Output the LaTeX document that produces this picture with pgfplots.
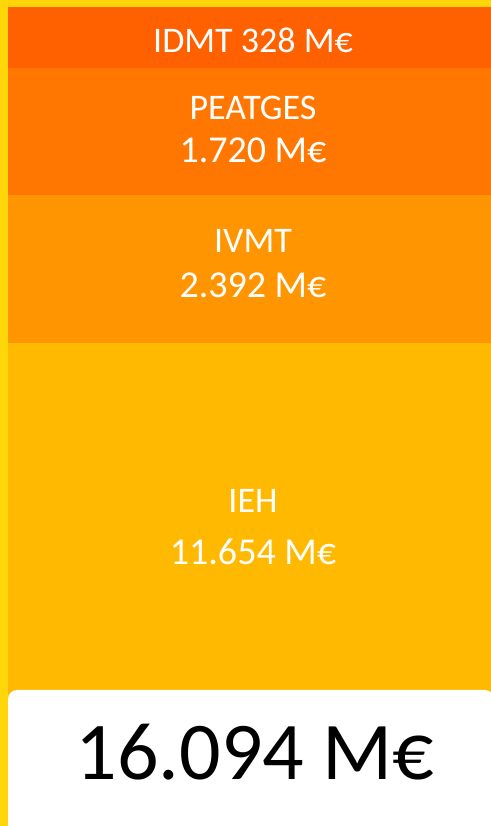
\documentclass[border=0pt]{standalone}
\usepackage{pgfplots}
\pgfplotsset{compat=1.18}
\usepackage{fontspec}
\setmainfont{Carlito}
\definecolor{frameY}{RGB}{255,214,10}
\definecolor{cIDMT}{RGB}{255,96,0}
\definecolor{cPEA}{RGB}{255,119,0}
\definecolor{cIVMT}{RGB}{255,149,0}
\definecolor{cIEH}{RGB}{255,185,0}
\newcommand{\nm}{\fontsize{36bp}{40bp}\selectfont}
\newcommand{\vl}{\fontsize{38bp}{42bp}\selectfont}
\begin{document}
\begin{tikzpicture}[x=1bp,y=1bp]
\fill[frameY] (0,0) rectangle (491,826);
\begin{axis}[at={(8bp,0bp)}, anchor=south west, scale only axis,
  width=483bp, height=819bp, hide axis,
  xmin=0, xmax=1, ymin=0, ymax=819,
  ybar stacked, bar width=483bp, clip=false]
% display heights (px) of the infographic bands
\addplot[fill=cIEH, draw=none] coordinates {(0.5,483)};
\addplot[fill=cIVMT, draw=none] coordinates {(0.5,148)};
\addplot[fill=cPEA, draw=none] coordinates {(0.5,127)};
\addplot[fill=cIDMT, draw=none] coordinates {(0.5,61)};
\end{axis}
\fill[white, rounded corners=9bp] (8,-30) rectangle (494,136);
\node[anchor=base, text=white, inner sep=0pt] at (253,773) {\nm IDMT 328 M€};
\node[anchor=base, text=white, inner sep=0pt] at (253,706) {\nm PEATGES};
\node[anchor=base, text=white, inner sep=0pt] at (253,663) {\vl 1.720 M€};
\node[anchor=base, text=white, inner sep=0pt] at (253,573) {\nm IVMT};
\node[anchor=base, text=white, inner sep=0pt] at (253,528) {\vl 2.392 M€};
\node[anchor=base, text=white, inner sep=0pt] at (253,313) {\nm IEH};
\node[anchor=base, text=white, inner sep=0pt] at (253,261) {\vl 11.654 M€};
\node[anchor=base, text=black, inner sep=0pt] at (255,46) {\fontsize{82bp}{90bp}\selectfont 16.094 M€};
\pgfresetboundingbox
\path (0,0) rectangle (491,826);
\end{tikzpicture}
\end{document}
